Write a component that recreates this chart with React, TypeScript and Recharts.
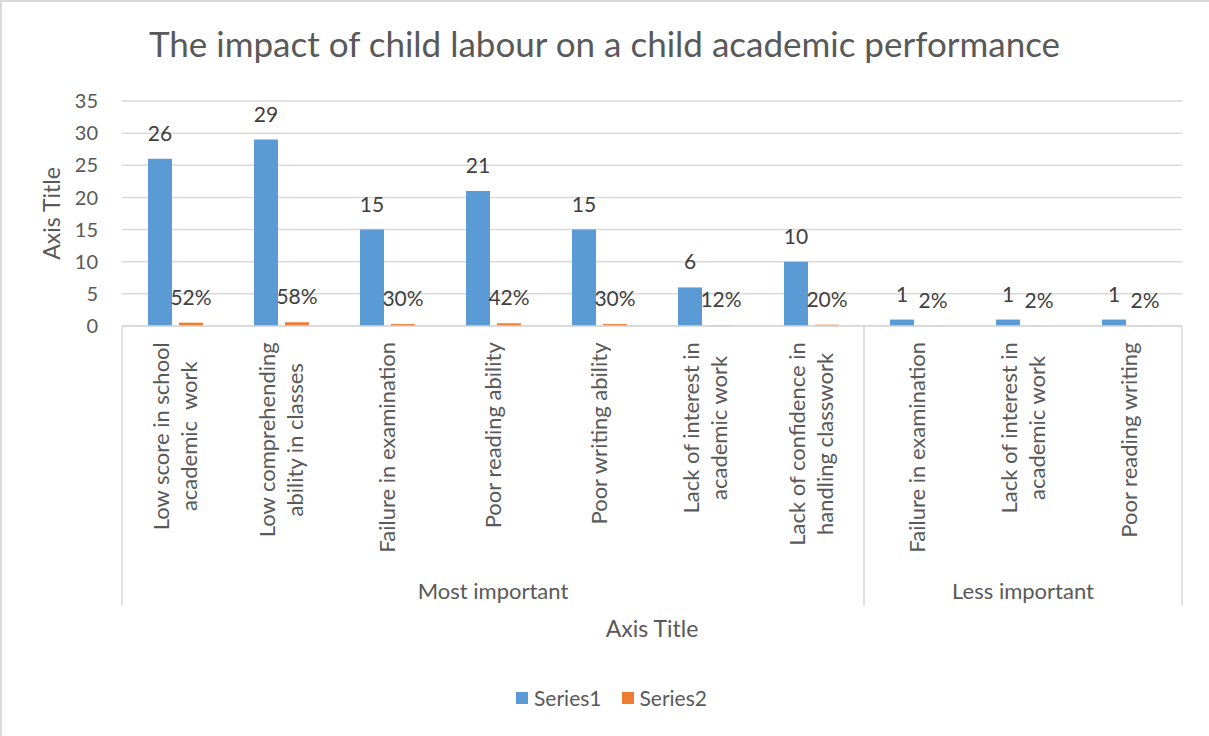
import { Bar, BarChart, CartesianGrid, LabelList, Legend, XAxis, YAxis } from "recharts";

const FONT = "Lato, 'Open Sans', sans-serif";
const TEXT = "#595959";
const LABEL = "#404040";
const GRID = "#d9d9d9";
const BLUE = "#5b9bd5";
const ORANGE = "#ed7d31";

const TITLE = "The impact of child labour on a child academic performance";
const GROUPS = ["Most important", "Less important"];
// each category label already split into the lines Excel wraps it to
const CATEGORY_LINES: string[][] = [
  ["Low score in school", "academic  work"],
  ["Low comprehending", "ability in classes"],
  ["Failure in examination"],
  ["Poor reading ability"],
  ["Poor writing ability"],
  ["Lack of interest in", "academic work"],
  ["Lack of confidence in", "handling classwork"],
  ["Failure in examination"],
  ["Lack of interest in", "academic work"],
  ["Poor reading writing"],
];
const CATEGORY_GROUP = [0, 0, 0, 0, 0, 0, 0, 1, 1, 1];
const SERIES1 = [26, 29, 15, 21, 15, 6, 10, 1, 1, 1];
const SERIES2 = [0.52, 0.58, 0.3, 0.42, 0.3, 0.12, 0.2, 0.02, 0.02, 0.02];
const Y_TICKS = [0, 5, 10, 15, 20, 25, 30, 35];

const data = CATEGORY_LINES.map((lines, i) => ({
  name: `${GROUPS[CATEGORY_GROUP[i]]} / ${lines.join(" ")}`,
  Series1: SERIES1[i],
  Series2: SERIES2[i],
}));

const AXIS_DEPTH = 280; // height of the two-level category box under the plot
const CAT_SIZE = 22;

let ctx: CanvasRenderingContext2D | null = null;
function textWidth(s: string, size: number) {
  if (!ctx) ctx = document.createElement("canvas").getContext("2d");
  if (!ctx) return s.length * size * 0.5;
  ctx.font = `${size}px Lato`;
  return ctx.measureText(s).width;
}

function CategoryTick(props: any) {
  const { x, y, payload } = props;
  const i: number = payload?.index ?? props.index;
  const half: number = payload?.offset || 53;
  const lines = CATEGORY_LINES[i];
  const maxW = Math.max(...lines.map((l) => textWidth(l, CAT_SIZE)));
  const cy = y + 16 + maxW / 2;
  const lineGap = 28;
  const g = CATEGORY_GROUP[i];
  const isFirst = i === 0 || CATEGORY_GROUP[i - 1] !== g;
  const isLast = i === CATEGORY_GROUP.length - 1;
  const count = CATEGORY_GROUP.filter((v) => v === g).length;

  return (
    <g>
      {lines.map((line, k) => {
        const bx = x + 8 + (k - (lines.length - 1) / 2) * lineGap;
        return (
          <text
            key={k}
            transform={`translate(${bx},${cy}) rotate(-90)`}
            textAnchor="middle"
            fill={TEXT}
            fontSize={CAT_SIZE}
            fontFamily={FONT}
            style={{ whiteSpace: "pre" }}
          >
            {line}
          </text>
        );
      })}
      {isFirst && (
        <>
          <line x1={x - half} x2={x - half} y1={y} y2={y + AXIS_DEPTH} stroke={GRID} strokeWidth={1.5} />
          <text
            x={x - half + count * half}
            y={y + 273}
            textAnchor="middle"
            fill={TEXT}
            fontSize={CAT_SIZE}
            fontFamily={FONT}
          >
            {GROUPS[g]}
          </text>
        </>
      )}
      {isLast && <line x1={x + half} x2={x + half} y1={y} y2={y + AXIS_DEPTH} stroke={GRID} strokeWidth={1.5} />}
    </g>
  );
}

function YTitle(props: any) {
  const vb = props.viewBox || {};
  const cy = vb.y + vb.height / 2;
  return (
    <text
      transform={`translate(60,${cy}) rotate(-90)`}
      textAnchor="middle"
      fill={TEXT}
      fontSize={23}
      fontFamily={FONT}
    >
      Axis Title
    </text>
  );
}

function XTitle(props: any) {
  const vb = props.viewBox || {};
  return (
    <text x={vb.x + vb.width / 2} y={637} textAnchor="middle" fill={TEXT} fontSize={23} fontFamily={FONT}>
      Axis Title
    </text>
  );
}

function LegendContent(props: any) {
  const items = props.payload || [];
  return (
    <div style={{ display: "flex", justifyContent: "center", alignItems: "center", paddingLeft: 14 }}>
      {items.map((it: any, k: number) => (
        <span key={k} style={{ display: "flex", alignItems: "center", marginRight: k < items.length - 1 ? 20 : 0 }}>
          <span style={{ width: 12, height: 12, background: it.color, display: "inline-block", marginRight: 6 }} />
          <span style={{ color: TEXT, fontSize: 21, fontFamily: FONT }}>{it.value}</span>
        </span>
      ))}
    </div>
  );
}

const pct = (v: any) => `${Math.round(Number(v) * 100)}%`;

export default function App() {
  return (
    <div style={{ position: "relative", width: 1209, height: 736, background: "#fff", overflow: "hidden", fontFamily: FONT }}>
      <style>{`body{margin:0}`}</style>
      <BarChart
        width={1209}
        height={736}
        data={data}
        margin={{ top: 101, right: 27, left: 0, bottom: 131 }}
        barCategoryGap={26}
        barGap={7}
      >
        <CartesianGrid vertical={false} stroke={GRID} strokeWidth={1.5} />
        <XAxis
          dataKey="name"
          interval={0}
          height={279}
          tickSize={0}
          tickMargin={0}
          tickLine={false}
          axisLine={{ stroke: GRID, strokeWidth: 1.5 }}
          tick={<CategoryTick />}
          label={<XTitle />}
        />
        <YAxis
          domain={[0, 35]}
          ticks={Y_TICKS}
          width={122}
          tickSize={0}
          tickMargin={24}
          tickLine={false}
          axisLine={false}
          tick={{ fill: TEXT, fontSize: 20, fontFamily: FONT }}
          label={<YTitle />}
        />
        <Legend
          verticalAlign="middle"
          align="center"
          content={<LegendContent />}
          wrapperStyle={{ top: 685, left: 0, width: 1209 }}
        />
        <Bar dataKey="Series1" fill={BLUE} isAnimationActive={false}>
          <LabelList dataKey="Series1" position="top" offset={18} fill={LABEL} fontSize={21} fontFamily={FONT} />
        </Bar>
        <Bar dataKey="Series2" fill={ORANGE} isAnimationActive={false}>
          <LabelList
            dataKey="Series2"
            position="top"
            offset={18}
            fill={LABEL}
            fontSize={21}
            fontFamily={FONT}
            formatter={pct}
          />
        </Bar>
      </BarChart>
      <div
        style={{
          position: "absolute",
          left: 0,
          top: 26,
          width: 1209,
          textAlign: "center",
          fontSize: 35,
          lineHeight: 1,
          color: TEXT,
          fontFamily: FONT,
          pointerEvents: "none",
        }}
      >
        {TITLE}
      </div>
      <div
        style={{
          position: "absolute",
          left: 0,
          top: 0,
          width: 1220,
          height: 750,
          borderLeft: `2px solid ${GRID}`,
          borderTop: `2px solid ${GRID}`,
          boxSizing: "border-box",
          pointerEvents: "none",
        }}
      />
    </div>
  );
}
